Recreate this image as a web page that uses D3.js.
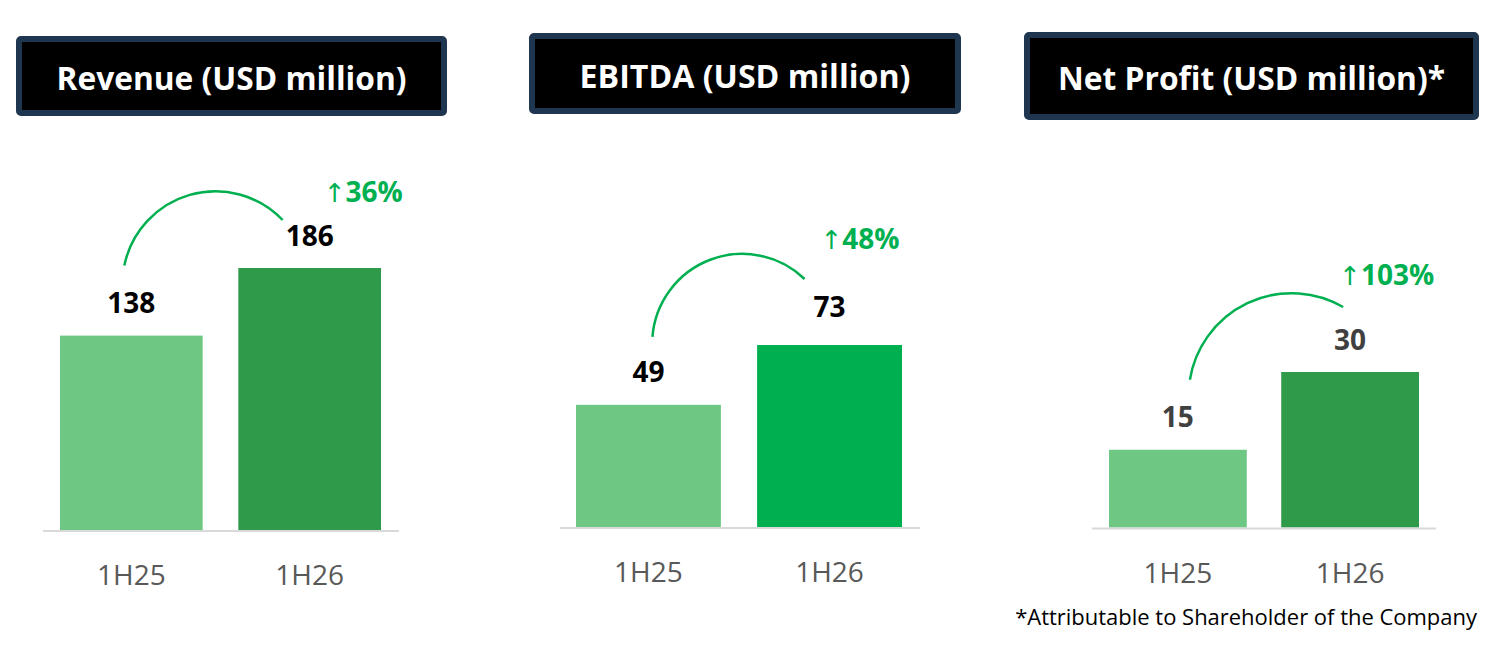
<!DOCTYPE html>
<html>
<head>
<meta charset="utf-8">
<script src="https://cdn.jsdelivr.net/npm/d3@7"></script>
<style>
  body { margin: 0; background: #fff; }
  svg { display: block; font-family: "Open Sans", "Noto Sans", sans-serif; }
</style>
</head>
<body>
<div id="chart"></div>
<script>
const categories = ['1H25', '1H26'];
const revenue = [138, 186];
const ebitda = [49, 73];
const netProfit = [15, 30];
const growth = ['36%', '48%', '103%'];
const titles = ['Revenue (USD million)', 'EBITDA (USD million)', 'Net Profit (USD million)*'];
const footnote = '*Attributable to Shareholder of the Company';

const series = [revenue, ebitda, netProfit];

// layout for each panel (pixels), kept apart from the data
const layout = [
    { box: [16, 36, 431, 80], titleW: 350, xr: [60, 381], base: 530, top: 268, axis: [43, 399],
      colors: ['#6fc784', '#2e9a4a'], valColor: '#000', gaps: [23, 22],
      arc: { s: [-7, -47], e: [-27, -26], r: 93 }, pct: [14, -44] },
    { box: [529, 33, 432, 81], titleW: 331, xr: [576, 902], base: 527, top: 345, axis: [560, 920],
      colors: ['#6fc784', '#00b050'], valColor: '#000', gaps: [23, 28],
      arc: { s: [4, -45], e: [-25, -38], r: 90 }, pct: [-9, -68] },
    { box: [1024, 32, 455, 88], titleW: 387, xr: [1109, 1419], base: 527.5, top: 372, axis: [1092, 1436],
      colors: ['#6fc784', '#2e9a4a'], valColor: '#404040', gaps: [23, 22],
      arc: { s: [12, -47], e: [-7, -43], r: 103 }, pct: [-11, -65] }
];

const width = 1492, height = 646;
const svg = d3.select('#chart').append('svg')
    .attr('width', width)
    .attr('height', height);

function fitText(text, target) {
    const w = text.node().getComputedTextLength();
    const fs = parseFloat(text.attr('font-size'));
    text.attr('font-size', (fs * target / w).toFixed(2));
}

series.forEach((values, i) => {
    const L = layout[i];
    const g = svg.append('g');

    // title box
    const [bx, by, bw, bh] = L.box;
    g.append('rect')
        .attr('x', bx + 3).attr('y', by + 3)
        .attr('width', bw - 6).attr('height', bh - 6)
        .attr('rx', 2)
        .attr('fill', '#000')
        .attr('stroke', '#1f3650')
        .attr('stroke-width', 6);
    const t = g.append('text')
        .attr('x', bx + bw / 2)
        .attr('y', by + bh / 2 + 14)
        .attr('text-anchor', 'middle')
        .attr('fill', '#fff')
        .attr('font-weight', 700)
        .attr('font-size', 28)
        .text(titles[i]);
    fitText(t, L.titleW);

    const x = d3.scaleBand()
        .domain(categories)
        .range(L.xr)
        .paddingInner(0.2)
        .paddingOuter(0);
    const y = d3.scaleLinear()
        .domain([0, d3.max(values)])
        .range([L.base, L.top]);

    const rows = categories.map((c, j) => ({ cat: c, val: values[j], j }));

    g.selectAll('rect.bar')
        .data(rows)
        .enter().append('rect')
        .attr('class', 'bar')
        .attr('x', d => x(d.cat))
        .attr('y', d => y(d.val))
        .attr('width', x.bandwidth())
        .attr('height', d => y(0) - y(d.val))
        .attr('fill', d => L.colors[d.j]);

    // baseline
    g.append('line')
        .attr('x1', L.axis[0]).attr('x2', L.axis[1])
        .attr('y1', y(0) + 1).attr('y2', y(0) + 1)
        .attr('stroke', '#d9d9d9')
        .attr('stroke-width', 2);

    // category labels
    g.selectAll('text.cat')
        .data(rows)
        .enter().append('text')
        .attr('class', 'cat')
        .attr('x', d => x(d.cat) + x.bandwidth() / 2)
        .attr('y', y(0) + 55)
        .attr('text-anchor', 'middle')
        .attr('fill', '#595959')
        .attr('font-size', 28)
        .text(d => d.cat);

    // value labels
    const lblY = rows.map(d => y(d.val) - L.gaps[d.j]);
    g.selectAll('text.val')
        .data(rows)
        .enter().append('text')
        .attr('class', 'val')
        .attr('x', d => x(d.cat) + x.bandwidth() / 2)
        .attr('y', d => lblY[d.j])
        .attr('text-anchor', 'middle')
        .attr('fill', L.valColor)
        .attr('font-weight', 700)
        .attr('font-size', 28)
        .text(d => d.val);

    // growth arc
    const c0 = x(categories[0]) + x.bandwidth() / 2;
    const c1 = x(categories[1]) + x.bandwidth() / 2;
    const sx = c0 + L.arc.s[0], sy = lblY[0] + L.arc.s[1];
    const ex = c1 + L.arc.e[0], ey = lblY[1] + L.arc.e[1];
    g.append('path')
        .attr('d', `M${sx},${sy} A${L.arc.r},${L.arc.r} 0 0 1 ${ex},${ey}`)
        .attr('fill', 'none')
        .attr('stroke', '#00b050')
        .attr('stroke-width', 2.5);

    const p = g.append('text')
        .attr('x', c1 + L.pct[0])
        .attr('y', lblY[1] + L.pct[1])
        .attr('fill', '#00b050')
        .attr('font-weight', 700)
        .attr('font-size', 28);
    p.append('tspan')
        .attr('font-family', 'DejaVu Sans')
        .attr('font-weight', 400)
        .attr('font-size', 26)
        .text('\u2191');
    p.append('tspan').text(growth[i]);
});

const fn = svg.append('text')
    .attr('x', 1477)
    .attr('y', 625)
    .attr('text-anchor', 'end')
    .attr('fill', '#000')
    .attr('font-size', 20)
    .text(footnote);
fitText(fn, 462);
</script>
</body>
</html>
